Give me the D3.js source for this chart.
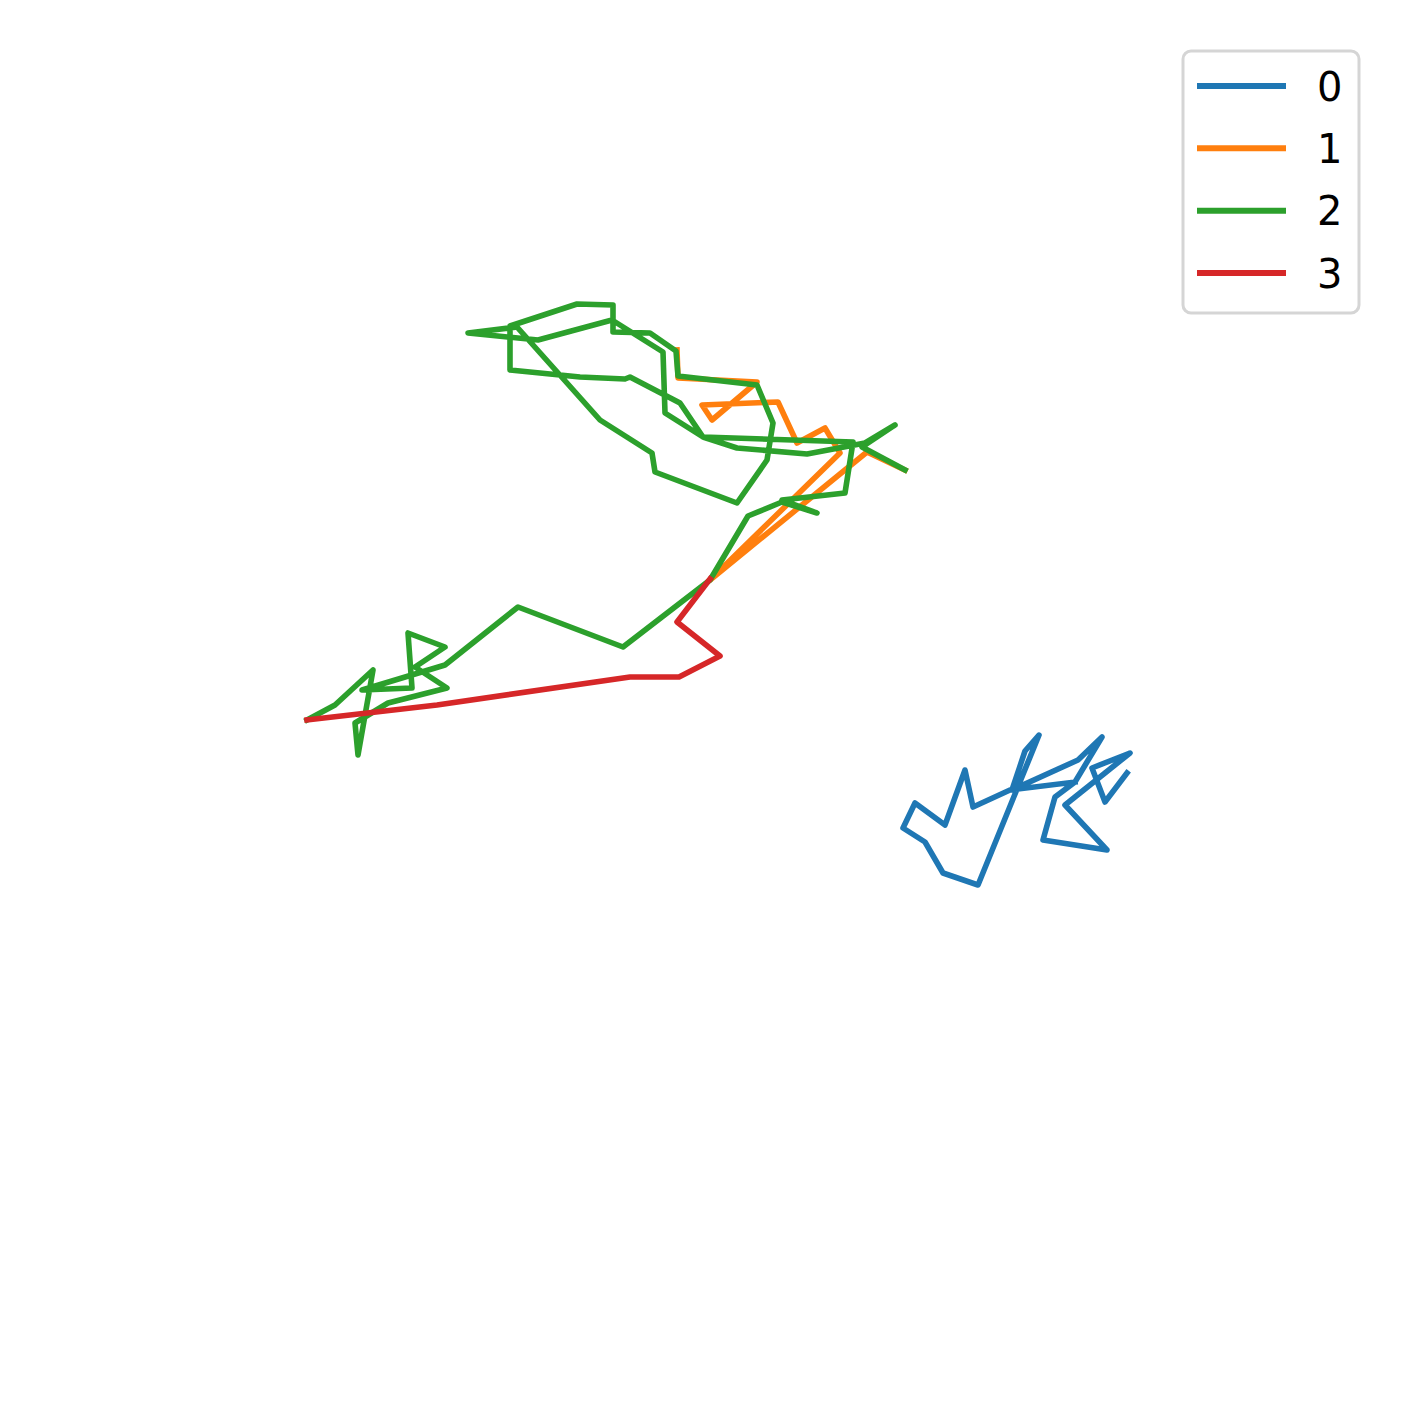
<!DOCTYPE html>
<html>
<head>
<meta charset="utf-8">
<script src="https://cdn.jsdelivr.net/npm/d3@7"></script>
<style>
  html, body { margin: 0; padding: 0; background: #fff; }
  svg { display: block; }
</style>
</head>
<body>
<svg id="chart" width="1409" height="1410"></svg>
<script>
// ---- data (x, y in data units; y increases upward) ----
const seriesNames = ["0", "1", "2", "3"];
const colors = ["#1f77b4", "#ff7f0e", "#2ca02c", "#d62728"];

const x0 = [107.5,101.0,97.3,96.5,94.5,91.5,90.3,92.5,94.3,97.8,103.9,102.5,101.2,107.8,110.2,107.5,105.5,104.3,110.7,106.5,113.0,109.2,110.5,112.7];
const y0 = [62.8,62.0,60.3,64.0,58.5,60.7,58.2,56.8,53.7,52.5,67.5,65.9,62.0,65.0,67.3,62.8,61.3,57.0,56.0,60.5,65.7,64.2,60.8,63.7];

const x1 = [67.7,67.8,75.7,71.2,70.2,77.8,79.7,82.5,84.0,71.0,86.7,90.5];
const y1 = [106.0,103.2,102.8,99.0,100.5,100.8,96.7,98.2,95.7,83.0,95.8,94.0];

const x2 = [30.7,33.5,37.3,35.8,35.5,38.8,44.7,41.5,44.5,40.8,41.2,36.2,44.5,51.8,62.3,71.0,74.8,78.2,81.7,78.2,84.5,85.3,70.3,68.0,63.0,62.5,58.0,51.0,51.0,57.7,61.3,61.3,65.0,67.6,67.8,75.7,77.3,76.7,73.7,65.5,65.2,60.0,51.7,46.8,53.8,61.2,66.3,66.5,70.3,73.7,80.7,86.5,89.5,86.2,90.5];
const y2 = [69.0,70.5,74.0,65.5,68.7,70.7,72.2,74.3,76.3,77.7,72.2,72.0,74.5,80.3,76.3,83.0,89.4,90.8,89.7,91.0,91.7,96.8,97.3,100.7,103.3,103.1,103.3,104.0,108.4,110.6,110.5,107.8,107.7,105.9,103.4,102.5,98.7,95.0,90.7,93.8,95.7,99.0,108.3,107.7,107.0,109.0,105.8,99.7,97.3,96.2,95.6,96.7,98.5,96.3,94.0];

const x3 = [71.0,67.7,72.0,67.9,63.0,43.7,30.7];
const y3 = [83.1,78.8,75.4,73.3,73.3,70.5,69.0];

const seriesX = [x0, x1, x2, x3];
const seriesY = [y0, y1, y2, y3];

// ---- layout ----
const W = 1409, H = 1410;
const svg = d3.select("#chart");

const xScale = d3.scaleLinear().domain([0, 140.9]).range([0, W]);
const yScale = d3.scaleLinear().domain([0, 141.0]).range([H, 0]);

const line = d3.line()
  .x(d => xScale(d[0]))
  .y(d => yScale(d[1]));

const lineW = 5.6;

seriesNames.forEach((name, i) => {
  const pts = d3.zip(seriesX[i], seriesY[i]);
  svg.append("path")
    .datum(pts)
    .attr("fill", "none")
    .attr("stroke", colors[i])
    .attr("stroke-width", lineW)
    .attr("stroke-linejoin", "round")
    .attr("stroke-linecap", "square")
    .attr("d", line);
});

// ---- legend ----
const lg = svg.append("g").attr("class", "legend");
lg.append("rect")
  .attr("x", 1183).attr("y", 51)
  .attr("width", 176).attr("height", 262)
  .attr("rx", 8).attr("ry", 8)
  .attr("fill", "#ffffff").attr("fill-opacity", 0.8)
  .attr("stroke", "#d5d5d5").attr("stroke-width", 3);

const legendY = d3.scaleLinear().domain([0, 3]).range([86, 273]);

seriesNames.forEach((name, i) => {
  const yy = legendY(i);
  lg.append("line")
    .attr("x1", 1197).attr("x2", 1286)
    .attr("y1", yy).attr("y2", yy)
    .attr("stroke", colors[i])
    .attr("stroke-width", 6);
  lg.append("text")
    .attr("x", 1317)
    .attr("y", yy + 14.5)
    .attr("font-family", "DejaVu Sans, sans-serif")
    .attr("font-size", 40)
    .attr("fill", "#000")
    .text(name);
});
</script>
</body>
</html>
